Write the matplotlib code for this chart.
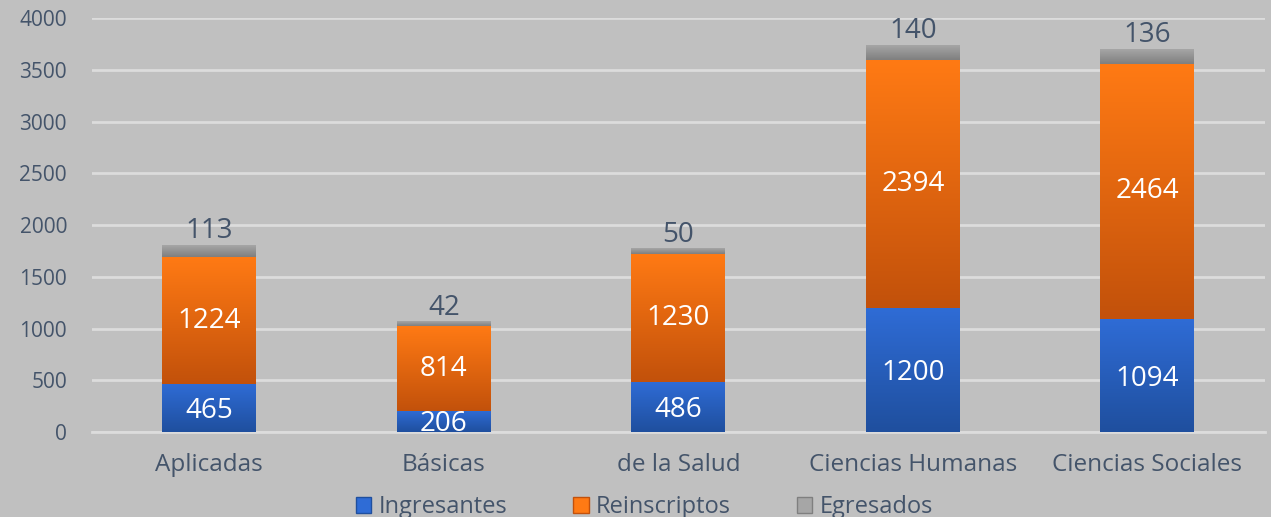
import numpy as np
import matplotlib.pyplot as plt
from matplotlib.colors import LinearSegmentedColormap
from matplotlib.patches import Patch

categories = ['Aplicadas', 'Básicas', 'de la Salud', 'Ciencias Humanas', 'Ciencias Sociales']
ingresantes = [465, 206, 486, 1200, 1094]
reinscriptos = [1224, 814, 1230, 2394, 2464]
egresados = [113, 42, 50, 140, 136]

txt = '#44546a'
bg = '#c0c0c0'
plt.rcParams['font.family'] = ['Open Sans', 'DejaVu Sans']

fig = plt.figure(figsize=(12.71, 5.17), dpi=100, facecolor=bg)
ax = fig.add_axes([0.0724, 0.1644, 0.9226, 0.8006])
ax.set_facecolor(bg)

grads = {
    'Ingresantes': ('#1f4f9e', '#2f6cd6'),
    'Reinscriptos': ('#c2510b', '#ff7a14'),
    'Egresados': ('#7f7f7f', '#a6a6a6'),
}

x = np.arange(len(categories))
w = 0.40
bottoms = np.zeros(len(categories))
grad = np.linspace(0, 1, 256).reshape(-1, 1)
for name, vals in [('Ingresantes', ingresantes), ('Reinscriptos', reinscriptos), ('Egresados', egresados)]:
    cmap = LinearSegmentedColormap.from_list(name, grads[name])
    bars = ax.bar(x, vals, w, bottom=bottoms, color='none', zorder=3)
    for b in bars:
        x0, y0 = b.get_x(), b.get_y()
        ax.imshow(grad, cmap=cmap, extent=(x0, x0 + b.get_width(), y0, y0 + b.get_height()),
                  origin='lower', aspect='auto', zorder=3)
    bottoms = bottoms + np.array(vals)

lab = dict(fontsize=20, zorder=5, ha='center')
for i in range(len(categories)):
    ax.text(x[i], ingresantes[i] / 2 - 30, str(ingresantes[i]), va='center', color='white', **lab)
    ax.text(x[i], ingresantes[i] + reinscriptos[i] / 2, str(reinscriptos[i]), va='center',
            color='white', **lab)
    ax.text(x[i], bottoms[i] + 5, str(egresados[i]), va='bottom', color=txt, **lab)

ax.set_xlim(-0.5, 4.5)
ax.set_ylim(0, 4000)
ax.set_yticks(range(0, 4001, 500))
ax.yaxis.grid(True, color='#dcdcdc', linewidth=2, zorder=0)
ax.set_axisbelow(True)
for s in ['top', 'right', 'left']:
    ax.spines[s].set_visible(False)
ax.spines['bottom'].set_color('#dcdcdc')
ax.spines['bottom'].set_linewidth(2)
ax.tick_params(axis='both', length=0, colors=txt)
ax.tick_params(axis='y', pad=18, labelsize=15)
ax.tick_params(axis='x', pad=15, labelsize=17.5)
ax.set_xticks(x)
ax.set_xticklabels(categories)

handles = [Patch(facecolor=grads[k][1], edgecolor=grads[k][0]) for k in grads]
leg = fig.legend(handles, list(grads.keys()), loc='lower center', ncol=3, frameon=False,
                 bbox_to_anchor=(0.507, -0.045), fontsize=17, handlelength=0.65, handleheight=0.65,
                 handletextpad=0.3, columnspacing=2.8, labelcolor=txt)

fig.savefig('out.png', dpi=100, facecolor=bg)
